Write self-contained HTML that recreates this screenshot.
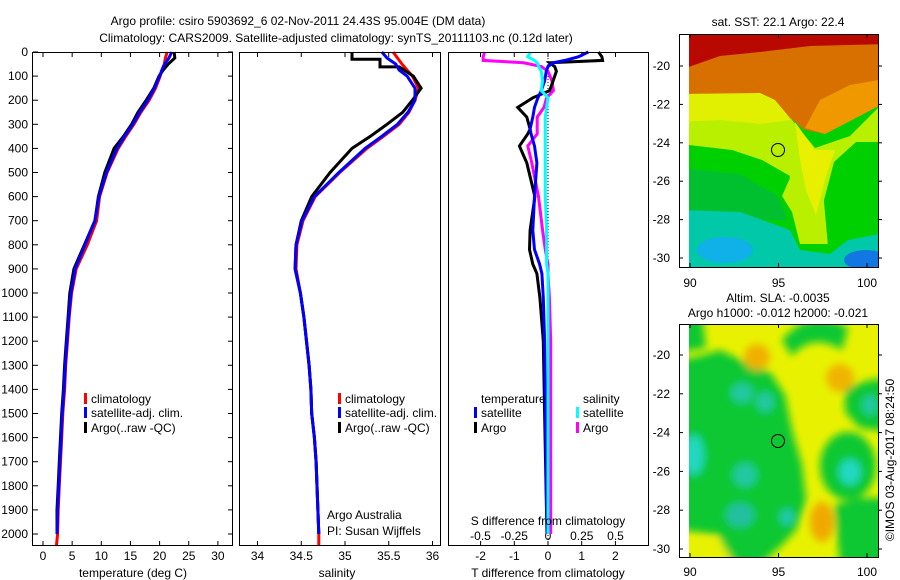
<!DOCTYPE html>
<html><head><meta charset="utf-8"><style>
body{margin:0;background:#fff;}
svg{display:block;font-family:"Liberation Sans",sans-serif;font-size:12px;}
</style></head><body>
<svg id="fig" width="900" height="580" viewBox="0 0 900 580" xmlns="http://www.w3.org/2000/svg">
<defs>
<clipPath id="cm1"><rect x="689" y="34" width="189" height="233"/></clipPath>
<clipPath id="cm2"><rect x="689" y="324" width="189" height="233"/></clipPath>
<filter id="b2" x="-30%" y="-30%" width="160%" height="160%"><feGaussianBlur stdDeviation="4"/></filter>
</defs>
<text x="298" y="25" text-anchor="middle">Argo profile: csiro 5903692_6 02-Nov-2011 24.43S 95.004E (DM data)</text>
<text x="336" y="42" text-anchor="middle">Climatology: CARS2009. Satellite-adjusted climatology: synTS_20111103.nc (0.12d later)</text>

<g id="p1"></g>
<g id="p2"></g>
<g id="p3"></g>

<!-- top map -->
<g>
<text x="778" y="26" text-anchor="middle">sat. SST: 22.1 Argo: 22.4</text>
<g clip-path="url(#cm1)">
<rect x="680" y="25" width="210" height="250" fill="#00d000"/>
<polygon points="680,88 760,88 782,96 792,120 815,148 850,136 890,96 890,142 856,142 834,162 824,200 828,244 800,244 792,212 782,196 790,176 762,160 732,150 680,144" fill="#b8f000"/>
<polygon points="680,88 760,88 780,96 790,120 760,124 720,120 680,122" fill="#e0f000"/>
<polygon points="795,122 815,150 835,150 826,176 816,215 806,190 800,160" fill="#e8f000"/>
<polygon points="680,146 732,152 762,162 790,178 782,196 792,214 800,246 680,246" fill="#00d000"/>
<polygon points="834,164 856,144 890,144 890,246 828,246 824,202" fill="#00d000"/>
<polygon points="680,168 740,174 778,196 788,220 680,220" fill="#00c030"/>
<polygon points="680,210 740,212 790,230 800,250 830,254 848,240 890,232 890,275 680,275" fill="#00c8a8"/>
<ellipse cx="725" cy="250" rx="28" ry="13" fill="#10b0e8"/>
<ellipse cx="866" cy="260" rx="22" ry="10" fill="#1078e0"/>
<polygon points="680,25 890,25 890,100 852,120 825,134 805,130 790,118 775,100 760,93 680,94" fill="#d87000"/>
<polygon points="805,128 825,134 852,120 890,100 890,78 850,85 820,100" fill="#f09800"/>
<polygon points="680,25 890,25 890,44 810,46 760,52 720,56 680,70" fill="#b80800"/>
</g>
<rect x="679.5" y="34.5" width="199" height="233" fill="none" stroke="#000"/>
<circle cx="778" cy="150" r="6.5" fill="none" stroke="#000"/>
<g id="m1ax"></g>
</g>

<!-- bottom map -->
<g>
<text x="778" y="302" text-anchor="middle">Altim. SLA: -0.0035</text>
<text x="778" y="317" text-anchor="middle">Argo h1000: -0.012 h2000: -0.021</text>
<g clip-path="url(#cm2)">
<rect x="680" y="315" width="210" height="250" fill="#e8f200"/>
<g filter="url(#b2)">
<path d="M680,360 L700,356 L720,350 L745,362 L770,372 L785,395 L792,430 L802,465 L806,500 L796,530 L782,545 L760,565 L725,565 L720,535 L680,530 Z" fill="#10c830"/>
<path d="M680,315 L702,315 L706,348 L680,352 Z" fill="#10c830"/>
<path d="M782,340 Q812,305 848,328 L842,350 Q812,332 792,356 Z" fill="#10c830"/>
<path d="M845,388 L870,380 L890,378 L890,432 L860,428 L845,412 Z" fill="#10c830"/>
<ellipse cx="848" cy="466" rx="28" ry="34" fill="#10c830"/>
<path d="M834,505 L860,498 L890,498 L890,565 L840,565 Z" fill="#10c830"/>
<path d="M680,545 L720,540 L735,565 L680,565 Z" fill="#e8f200"/>
<ellipse cx="694" cy="455" rx="10" ry="20" fill="#20d8c0"/>
<ellipse cx="742" cy="393" rx="11" ry="10" fill="#20c8a0"/>
<ellipse cx="765" cy="402" rx="9" ry="10" fill="#20c8a0"/>
<ellipse cx="850" cy="472" rx="11" ry="13" fill="#20d8c0"/>
<ellipse cx="870" cy="405" rx="8" ry="10" fill="#20c8a0"/>
<ellipse cx="787" cy="517" rx="7" ry="8" fill="#20c8b0"/>
<ellipse cx="745" cy="475" rx="12" ry="12" fill="#20c8a0"/>
<ellipse cx="740" cy="515" rx="14" ry="12" fill="#20c0a0"/>
<ellipse cx="757" cy="357" rx="13" ry="13" fill="#f0b000"/>
<ellipse cx="840" cy="378" rx="14" ry="14" fill="#f0b400"/>
<ellipse cx="822" cy="522" rx="12" ry="20" fill="#f0a800"/>
</g>
</g>
<rect x="679.5" y="324.5" width="199" height="233" fill="none" stroke="#000"/>
<circle cx="778" cy="441" r="6.5" fill="none" stroke="#000"/>
<g id="m2ax"></g>
</g>
<text transform="translate(894,460) rotate(-90)" text-anchor="middle">©IMOS 03-Aug-2017 08:24:50</text>
</svg>
<script>
// ---- data ----
const depth = [0,25,50,75,100,150,200,250,300,350,400,500,600,700,800,900,1000,1100,1200,1300,1400,1500,1600,1700,1800,1900,2000,2050];
const tempClim = [21.3,21.0,20.8,20.4,20.1,19.3,18.2,16.8,15.6,14.2,12.9,11.0,9.7,9.2,7.6,5.7,4.9,4.5,4.2,3.9,3.7,3.4,3.2,3.0,2.8,2.6,2.5,2.3];
const tempSat = [22.1,21.6,20.9,20.4,20.0,19.1,18.0,16.6,15.4,14.0,12.7,10.9,9.6,8.9,7.2,5.5,4.8,4.4,4.1,3.8,3.6,3.3,3.1,2.9,2.7,2.5,2.4];
const tempArgo = [22.5,22.6,21.5,20.6,19.9,19.0,17.7,16.3,15.2,13.8,12.2,10.6,9.5,8.9,7.1,5.3,4.6,4.3,4.0,3.7,3.5,3.2,3.0,2.8,2.6,2.4,2.4];
const salClim = [35.55,35.6,35.65,35.71,35.77,35.84,35.8,35.73,35.62,35.44,35.25,34.94,34.66,34.52,34.45,34.44,34.49,34.53,34.56,34.59,34.61,34.62,34.65,34.67,34.68,34.69,34.70,34.70];
const salSat = [35.42,35.48,35.58,35.62,35.71,35.8,35.8,35.72,35.6,35.42,35.23,34.93,34.65,34.51,34.44,34.43,34.49,34.53,34.56,34.59,34.61,34.62,34.65,34.67,34.68,34.69,34.70];
const argoSalDepth = [0,30,30,62,62,100,150,200,250,300,350,400,500,600,700,800,900,1000,1100,1200,1300,1400,1500,1600,1700,1800,1900,2000];
const salArgo = [35.08,35.08,35.40,35.40,35.62,35.78,35.87,35.77,35.66,35.48,35.29,35.08,34.83,34.62,34.5,34.44,34.43,34.49,34.53,34.56,34.59,34.61,34.62,34.65,34.67,34.68,34.69,34.70];
const diffDepth = [0,20,35,45,60,80,120,160,190,230,270,320,340,390,460,600,740,820,880,920,1020,1200,1500,1800,2000];
const dTempSat = [1.2,0.9,0.5,0.15,0,-0.05,-0.1,-0.2,-0.3,-0.4,-0.45,-0.53,-0.5,-0.4,-0.33,-0.4,-0.45,-0.4,-0.25,-0.18,-0.14,-0.1,-0.08,-0.05,-0.03];
const dTempArgo = [1.5,1.6,1.62,0.05,0.2,0.25,0.15,0.05,-0.45,-0.9,-0.63,-0.53,-0.6,-0.85,-0.63,-0.39,-0.53,-0.55,-0.45,-0.33,-0.24,-0.14,-0.1,-0.06,-0.03];
const dSalArgo = [-0.47,-0.48,-0.48,-0.18,-0.05,0,0.03,0.04,-0.01,-0.03,-0.08,-0.08,-0.08,-0.15,-0.12,-0.07,-0.04,-0.02,0,0,0.01,0.02,0.02,0.02,0.02];
const dSalSat = [-0.13,-0.15,-0.1,-0.08,-0.07,-0.05,-0.04,-0.05,0,-0.01,-0.02,-0.02,-0.02,-0.02,-0.02,-0.02,-0.01,-0.01,-0.01,0,0,0,0,0,0];
const depthTicks = [0,100,200,300,400,500,600,700,800,900,1000,1100,1200,1300,1400,1500,1600,1700,1800,1900,2000];
const tempTicks = [0,5,10,15,20,25,30];
const salTicks = [34,34.5,35,35.5,36];
const salTickLabels = ["34","34.5","35","35.5","36"];
const dTTicks = [-2,-1,0,1,2];
const dSTicks = [-0.5,-0.25,0,0.25,0.5];
const dSTickLabels = ["-0.5","-0.25","0","0.25","0.5"];
const latTicks = [-20,-22,-24,-26,-28,-30];
const lonTicks = [90,95,100];

// ---- scales ----
const TOP=52, BOT=545;
const yD = d => TOP + d*0.241;
const xT = t => 43 + t*5.83;
const xS = s => 345 + (s-35)*87.5;
const xdT = v => 548 + v*33.7;
const xdS = v => 548 + v*135;
const lonX = l => 690 + (l-90)*17.7;
const latY1 = l => 66 + (-20-l)*19.2;
const latY2 = l => 355 + (-20-l)*19.4;

const NS="http://www.w3.org/2000/svg";
function mk(parent, tag, attrs, text){
  const e=document.createElementNS(NS,tag);
  for(const k in attrs) e.setAttribute(k,attrs[k]);
  if(text!==undefined) e.textContent=text;
  parent.appendChild(e); return e;
}
function line(g,vals,ds,xf,color,name){
  const n=Math.min(vals.length,ds.length);
  const pts=[];
  for(let i=0;i<n;i++) pts.push(xf(vals[i]).toFixed(1)+","+yD(ds[i]).toFixed(1));
  const p=mk(g,"polyline",{points:pts.join(" "),fill:"none",stroke:color,"stroke-width":3,"stroke-linejoin":"miter"});
  
  
  return p;
}
function frame(g,x0,x1,name){
  const r=mk(g,"rect",{x:x0+0.5,y:TOP+0.5,width:x1-x0,height:BOT-TOP,fill:"none",stroke:"#000"});
  
  
}
function legendItem(g,x,y,color,label,name){
  mk(g,"rect",{x:x,y:y-10,width:3,height:11,fill:color});
  const t=mk(g,"text",{x:x+7,y:y},label);
  
  
}

// ---- panel 1 ----
const p1=document.getElementById("p1");
for(const d of depthTicks){
  mk(p1,"line",{x1:33,x2:38,y1:yD(d),y2:yD(d),stroke:"#000"});
  mk(p1,"line",{x1:228,x2:233,y1:yD(d),y2:yD(d),stroke:"#000"});
  const t=mk(p1,"text",{x:28,y:yD(d)+4,"text-anchor":"end"},String(d));
  
  
}
for(const v of tempTicks){
  mk(p1,"line",{x1:xT(v),x2:xT(v),y1:TOP,y2:TOP+5,stroke:"#000"});
  mk(p1,"line",{x1:xT(v),x2:xT(v),y1:BOT-4,y2:BOT,stroke:"#000"});
  const t=mk(p1,"text",{x:xT(v),y:560,"text-anchor":"middle"},String(v));
  
  
}
line(p1,tempClim,depth,xT,"#ff0000","temp-climatology-line");
line(p1,tempArgo,depth,xT,"#000000","temp-argo-line");
line(p1,tempSat,depth,xT,"#0000ff","temp-satellite-line");
frame(p1,32,232,"temperature-frame");
mk(p1,"text",{x:133,y:577,"text-anchor":"middle",},"temperature (deg C)");
legendItem(p1,84,403,"#ff0000","climatology","legend-climatology");
legendItem(p1,84,417,"#0000ff","satellite-adj. clim.","legend-satellite");
legendItem(p1,84,432,"#000000","Argo(..raw -QC)","legend-argo");

// ---- panel 2 ----
const p2=document.getElementById("p2");
for(let i=0;i<salTicks.length;i++){
  const v=salTicks[i];
  mk(p2,"line",{x1:xS(v),x2:xS(v),y1:TOP,y2:TOP+5,stroke:"#000"});
  mk(p2,"line",{x1:xS(v),x2:xS(v),y1:BOT-4,y2:BOT,stroke:"#000"});
  const t=mk(p2,"text",{x:xS(v),y:560,"text-anchor":"middle"},salTickLabels[i]);
  
  
}
line(p2,salClim,depth,xS,"#ff0000","sal-climatology-line");
line(p2,salArgo,argoSalDepth,xS,"#000000","sal-argo-line");
line(p2,salSat,depth,xS,"#0000ff","sal-satellite-line");
frame(p2,239,440,"salinity-frame");
mk(p2,"text",{x:337,y:577,"text-anchor":"middle",},"salinity");
legendItem(p2,338,403,"#ff0000","climatology","legend-climatology-2");
legendItem(p2,338,417,"#0000ff","satellite-adj. clim.","legend-satellite-2");
legendItem(p2,338,432,"#000000","Argo(..raw -QC)","legend-argo-2");
mk(p2,"text",{x:327,y:519,},"Argo Australia");
mk(p2,"text",{x:327,y:535,},"PI: Susan Wijffels");

// ---- panel 3 ----
const p3=document.getElementById("p3");
mk(p3,"line",{x1:548,x2:548,y1:TOP,y2:BOT,stroke:"#000","stroke-dasharray":"1,2"});
for(const v of dTTicks){
  mk(p3,"line",{x1:xdT(v),x2:xdT(v),y1:BOT-4,y2:BOT,stroke:"#000"});
  const t=mk(p3,"text",{x:xdT(v),y:560,"text-anchor":"middle"},String(v));
  
  
}
for(let i=0;i<dSTicks.length;i++){
  const v=dSTicks[i];
  mk(p3,"line",{x1:xdS(v),x2:xdS(v),y1:TOP,y2:TOP+5,stroke:"#000"});
  const t=mk(p3,"text",{x:xdS(v),y:540,"text-anchor":"middle"},dSTickLabels[i]);
  
  
}
line(p3,dSalArgo,diffDepth,xdS,"#ff00ff","sdiff-argo-line");
line(p3,dTempArgo,diffDepth,xdT,"#000000","tdiff-argo-line");
line(p3,dTempSat,diffDepth,xdT,"#0000ff","tdiff-satellite-line");
line(p3,dSalSat,diffDepth,xdS,"#00ffff","sdiff-satellite-line");
frame(p3,448,648,"difference-frame");
mk(p3,"text",{x:548,y:525,"text-anchor":"middle",},"S difference from climatology");
mk(p3,"text",{x:548,y:577,"text-anchor":"middle",},"T difference from climatology");
mk(p3,"text",{x:481,y:403,},"temperature");
mk(p3,"text",{x:583,y:403,},"salinity");
legendItem(p3,474,417,"#0000ff","satellite","legend-tdiff-satellite");
legendItem(p3,474,432,"#000000","Argo","legend-tdiff-argo");
legendItem(p3,576,417,"#00ffff","satellite","legend-sdiff-satellite");
legendItem(p3,576,432,"#ff00ff","Argo","legend-sdiff-argo");

// ---- map axes ----
function mapAxes(id,latY,y0,y1,labY){
  const g=document.getElementById(id);
  for(const l of latTicks){
    const y=latY(l);
    mk(g,"line",{x1:679,x2:683,y1:y,y2:y,stroke:"#000"});
    mk(g,"line",{x1:878,x2:882,y1:y,y2:y,stroke:"#000"});
    const t=mk(g,"text",{x:670,y:y+4,"text-anchor":"end"},String(l));
    
    
  }
  for(const l of lonTicks){
    const x=lonX(l);
    mk(g,"line",{x1:x,x2:x,y1:y0,y2:y0+4,stroke:"#000"});
    mk(g,"line",{x1:x,x2:x,y1:y1-4,y2:y1,stroke:"#000"});
    const t=mk(g,"text",{x:x,y:labY,"text-anchor":"middle"},String(l));
    
    
  }
}
mapAxes("m1ax",latY1,34,267,287);
mapAxes("m2ax",latY2,324,557,576);
</script>
</body></html>
